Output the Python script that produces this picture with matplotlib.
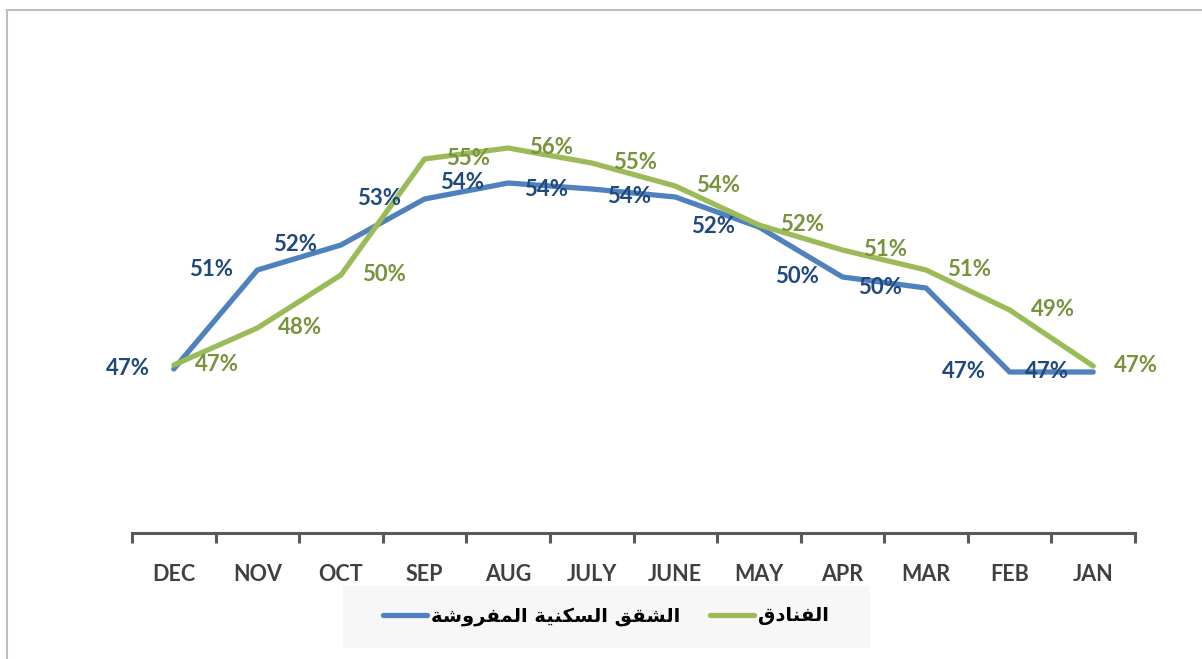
import matplotlib
matplotlib.use('Agg')
import matplotlib.pyplot as plt
from matplotlib.patches import Rectangle
from matplotlib.lines import Line2D

months = ['DEC', 'NOV', 'OCT', 'SEP', 'AUG', 'JULY', 'JUNE', 'MAY', 'APR', 'MAR', 'FEB', 'JAN']
apartments = [0.4668, 0.5064, 0.5164, 0.5348, 0.5412, 0.5388, 0.5356, 0.5236, 0.5036, 0.4992, 0.4656, 0.4656]
hotels = [0.4684, 0.4832, 0.5044, 0.5508, 0.5552, 0.5492, 0.5400, 0.5244, 0.5144, 0.5064, 0.4904, 0.4680]

# Arabic names, written in presentation forms and visual order (matplotlib does no shaping)
name_apartments = ('\uFE94\uFEB7\uFEED\uFEAE\uFED4\uFEE4\uFEDF\uFE8D' + ' '
                   + '\uFE94\uFEF4\uFEE8\uFEDC\uFEB4\uFEDF\uFE8D' + ' '
                   + '\uFED6\uFED8\uFEB8\uFEDF\uFE8D')  # الشقق السكنية المفروشة
name_hotels = '\uFED5\uFEA9\uFE8E\uFEE8\uFED4\uFEDF\uFE8D'  # الفنادق

blue = '#4F81BD'
green = '#9BBB59'
blue_txt = '#1F497D'
green_txt = '#77933C'
axis_col = '#595959'

plt.rcParams['font.family'] = ['Lato', 'DejaVu Sans']

W, H = 1202, 659
fig = plt.figure(figsize=(W / 100, H / 100), dpi=100)

# chart border (top and left edges visible)
fig.patches.append(Rectangle((7 / W, -0.5), 1.5, 1.5 - 10 / H, transform=fig.transFigure,
                             fill=False, edgecolor='#BFBFBF', linewidth=1.5))

ax = fig.add_axes([132 / W, (H - 533) / H, 1003 / W, 500 / H])
x = list(range(len(months)))

ax.plot(x, apartments, color=blue, linewidth=3.8, solid_capstyle='round', solid_joinstyle='round')
ax.plot(x, hotels, color=green, linewidth=3.8, solid_capstyle='round', solid_joinstyle='round')

for i in x:
    ax.annotate(f'{apartments[i]:.0%}', (i, apartments[i]), xytext=(-33, 0), textcoords='offset points',
                ha='center', va='center', fontsize=16, fontweight='bold', color=blue_txt)
    ax.annotate(f'{hotels[i]:.0%}', (i, hotels[i]), xytext=(31, 0), textcoords='offset points',
                ha='center', va='center', fontsize=16, fontweight='bold', color=green_txt)

ax.set_xlim(-0.5, len(months) - 0.5)
ax.set_ylim(0.4012, 0.6012)
ax.set_yticks([])
for s in ['left', 'right', 'top']:
    ax.spines[s].set_visible(False)
ax.spines['bottom'].set_color(axis_col)
ax.spines['bottom'].set_linewidth(2.2)

ax.set_xticks(x)
ax.set_xticklabels(months, fontsize=15.5, fontweight='bold', color='#404040')
ax.set_xticks([i - 0.5 for i in range(len(months) + 1)], minor=True)
ax.tick_params(axis='x', which='major', length=0, pad=22)
ax.tick_params(axis='x', which='minor', length=7, width=2.2, color=axis_col, direction='out')

# legend box
fig.patches.append(Rectangle((343 / W, (H - 648) / H), 527 / W, 62 / H, transform=fig.transFigure,
                             facecolor='#F7F7F7', edgecolor='none', zorder=0))
handles = [Line2D([], [], color=blue, linewidth=3.8, solid_capstyle='round'),
           Line2D([], [], color=green, linewidth=3.8, solid_capstyle='round')]
fig.legend(handles, [name_apartments, name_hotels], loc='center',
           bbox_to_anchor=(606 / W, 1 - 616 / H), ncol=2, frameon=False,
           prop={'family': 'DejaVu Sans', 'weight': 'bold', 'size': 14},
           handlelength=2.3, handletextpad=0.2, columnspacing=1.5)

fig.savefig('out.png', dpi=100)
